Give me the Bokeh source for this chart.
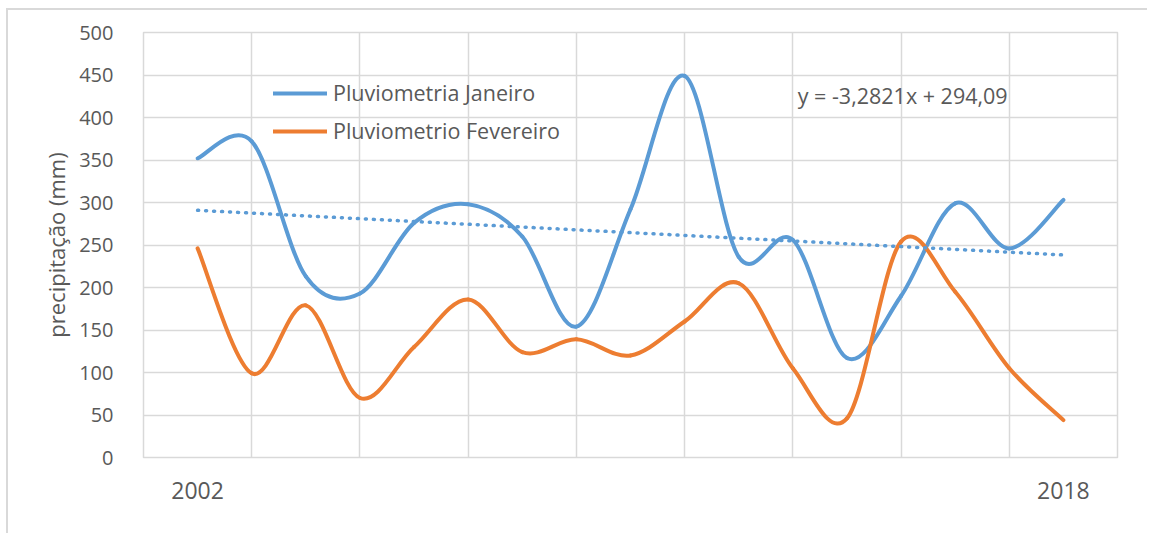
import numpy as np
from bokeh.plotting import figure
from bokeh.models import (FixedTicker, Legend, LegendItem, Label,
                          ColumnDataSource, Range1d)
from bokeh.embed import file_html
from bokeh.resources import INLINE

# ---------------- data ----------------
years = list(range(2002, 2019))
janeiro = [352, 372, 213, 193, 276, 298, 260, 154, 292, 449,
           236, 256, 117, 190, 299, 246, 303]
fevereiro = [246, 99, 179, 70, 130, 186, 124, 139, 120, 160,
             205, 105, 46, 254, 195, 105, 44]
trend_slope = -3.2821
trend_intercept = 294.09
trend_text = "y = -3,2821x + 294,09"
y_ticks = list(range(0, 501, 50))
x_tick_years = [2002, 2018]
grid_years = list(range(2001, 2020, 2))
label_jan = "Pluviometria Janeiro"
label_fev = "Pluviometrio Fevereiro"
y_label = "precipitação (mm)"

BLUE = "#5B9BD5"
ORANGE = "#ED7D31"
GRID = "#d9d9d9"
TEXT = "#595959"
FONT = "Open Sans"


def bezier_source(xs, ys):
    """Smoothed (Catmull-Rom style) curve through the data points."""
    x = np.asarray(xs, dtype=float)
    y = np.asarray(ys, dtype=float)
    n = len(x)
    i = np.arange(n - 1)
    prev = np.maximum(i - 1, 0)
    nxt = np.minimum(i + 2, n - 1)
    return ColumnDataSource(dict(
        x0=x[i], y0=y[i], x1=x[i + 1], y1=y[i + 1],
        cx0=x[i] + (x[i + 1] - x[prev]) / 6.0,
        cy0=y[i] + (y[i + 1] - y[prev]) / 6.0,
        cx1=x[i + 1] - (x[nxt] - x[i]) / 6.0,
        cy1=y[i + 1] - (y[nxt] - y[i]) / 6.0,
    ))


p = figure(width=1147, height=533,
           x_range=Range1d(2001, 2019), y_range=Range1d(0, 500),
           min_border_left=143, min_border_right=30,
           min_border_top=32, min_border_bottom=76,
           output_backend="svg", toolbar_location=None)
p.styles = {
    "background": ("linear-gradient(#d9d9d9, #d9d9d9) 6px 8px / 2px 100% no-repeat, "
                   "linear-gradient(#d9d9d9, #d9d9d9) 6px 8px / 100% 2px no-repeat, "
                   "white"),
}

p.background_fill_color = "white"
p.border_fill_color = None
p.outline_line_color = GRID
p.outline_line_width = 1.5

# grid
p.xgrid.ticker = FixedTicker(ticks=grid_years)
p.ygrid.ticker = FixedTicker(ticks=y_ticks)
for g in (p.xgrid, p.ygrid):
    g.grid_line_color = GRID
    g.grid_line_width = 1.5

# axes
p.xaxis.ticker = FixedTicker(ticks=x_tick_years)
p.yaxis.ticker = FixedTicker(ticks=y_ticks)
for ax in (p.xaxis, p.yaxis):
    ax.axis_line_color = None
    ax.major_tick_line_color = None
    ax.minor_tick_line_color = None
    ax.major_label_text_font = FONT
    ax.major_label_text_color = TEXT
p.xaxis.major_label_text_font_size = "23px"
p.xaxis.major_label_standoff = 18
p.yaxis.major_label_text_font_size = "20px"
p.yaxis.major_label_standoff = 24
p.yaxis.axis_label = y_label
p.yaxis.axis_label_text_font = FONT
p.yaxis.axis_label_text_font_size = "22px"
p.yaxis.axis_label_text_font_style = "normal"
p.yaxis.axis_label_text_color = TEXT
p.yaxis.axis_label_standoff = 5

# series
r_jan = p.bezier(x0="x0", y0="y0", x1="x1", y1="y1",
                 cx0="cx0", cy0="cy0", cx1="cx1", cy1="cy1",
                 source=bezier_source(years, janeiro),
                 line_color=BLUE, line_width=4, line_cap="round")
r_fev = p.bezier(x0="x0", y0="y0", x1="x1", y1="y1",
                 cx0="cx0", cy0="cy0", cx1="cx1", cy1="cy1",
                 source=bezier_source(years, fevereiro),
                 line_color=ORANGE, line_width=4, line_cap="round")

# linear trend of Janeiro (x = 1..n)
idx = np.arange(1, len(years) + 1)
trend = trend_slope * idx + trend_intercept
p.line(years, trend, line_color=BLUE, line_width=3.5,
       line_dash="1 7", line_cap="round")

# legend
legend = Legend(items=[LegendItem(label=label_jan, renderers=[r_jan]),
                       LegendItem(label=label_fev, renderers=[r_fev])],
                location=(130, 312), orientation="vertical",
                border_line_color=None, background_fill_alpha=0,
                padding=0, margin=0, spacing=9,
                glyph_width=54, glyph_height=24, label_height=24,
                label_standoff=6, label_text_font=FONT,
                label_text_font_size="21.5px", label_text_color=TEXT)
p.add_layout(legend)

# trend equation
p.add_layout(Label(x=2013.09, y=426, text=trend_text,
                   text_font=FONT, text_font_size="21.5px",
                   text_color=TEXT, text_baseline="alphabetic"))

open("out.html", "w").write(file_html(p, INLINE))
